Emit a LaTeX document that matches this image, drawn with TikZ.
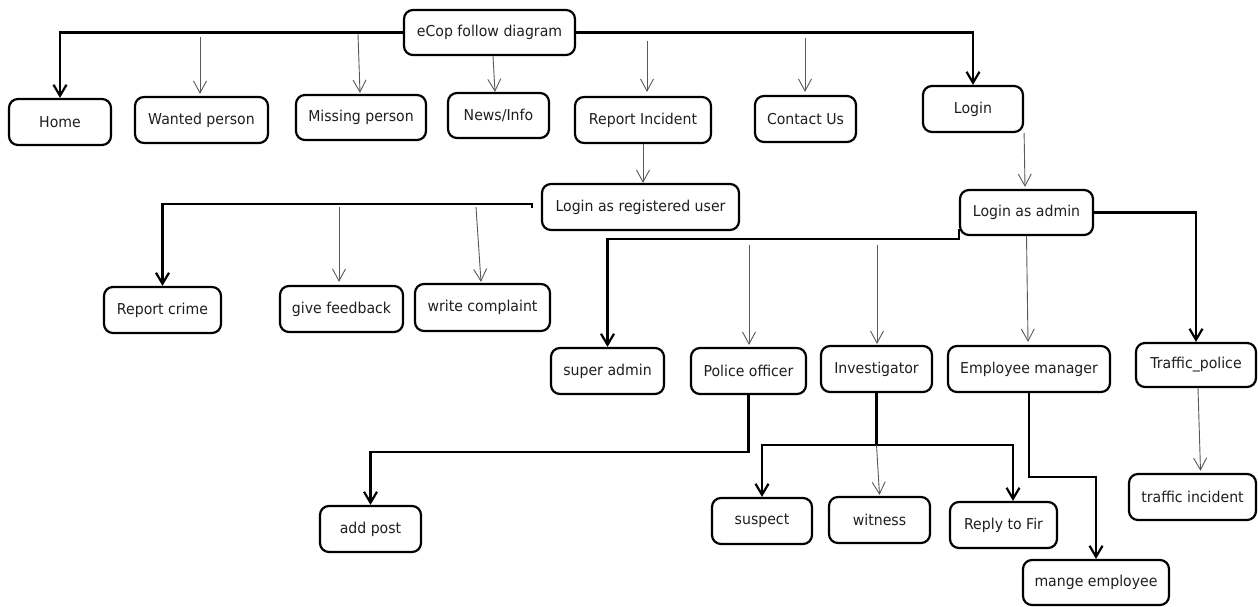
\documentclass[tikz,border=0pt]{standalone}
\usepackage{fontspec}
\setmainfont{DejaVu Sans}[FakeStretch=0.94]
\usetikzlibrary{arrows.meta,calc}

\tikzset{
  box/.style={draw=black, line width=2.2pt, rounded corners=9pt, fill=white,
    inner sep=0pt, text=black!88, font=\fontsize{15}{18}\selectfont},
  thickflow/.style={draw=black, line width=2.2pt},
  thickarrow/.style={thickflow, -{Straight Barb[length=11pt,width=13pt]}},
  thinarrow/.style={draw=black!65, line width=0.9pt, -{Straight Barb[length=12pt,width=13pt]}},
}

\begin{document}
\begin{tikzpicture}[x=1pt, y=-1pt]
\useasboundingbox[fill=white] (0,0) rectangle (1258,606);

% top level
\node[box, minimum width=171, minimum height=45] (ecop) at (489.5,32.5) {eCop follow diagram};
\node[box, minimum width=102, minimum height=46] (home) at (60,122) {Home};
\node[box, minimum width=133, minimum height=46] (wanted) at (201.5,120) {Wanted person};
\node[box, minimum width=130, minimum height=45] (missing) at (361,117.5) {Missing person};
\node[box, minimum width=101, minimum height=45] (news) at (498.5,115.5) {News/Info};
\node[box, minimum width=136, minimum height=46] (report) at (643,120) {Report Incident};
\node[box, minimum width=101, minimum height=46] (contact) at (805.5,119) {Contact Us};
\node[box, minimum width=100, minimum height=46] (login) at (973,109) {Login};

% second level
\node[box, minimum width=197, minimum height=46] (reguser) at (640.5,207) {Login as registered user};
\node[box, minimum width=133, minimum height=45] (admin) at (1026.5,212.5) {Login as admin};

% registered user pages
\node[box, minimum width=117, minimum height=46] (crime) at (162.5,310) {Report crime};
\node[box, minimum width=123, minimum height=46] (feedback) at (341.5,309) {give feedback};
\node[box, minimum width=135, minimum height=47] (complaint) at (482.5,307.5) {write complaint};

% admin roles
\node[box, minimum width=113, minimum height=46] (superadmin) at (607.5,371) {super admin};
\node[box, minimum width=115, minimum height=46] (police) at (748.5,371) {Police officer};
\node[box, minimum width=111, minimum height=46] (investigator) at (876.5,369) {Investigator};
\node[box, minimum width=162, minimum height=46] (employee) at (1029,369) {Employee manager};
\node[box, minimum width=120, minimum height=44] (traffic) at (1196,365) {Traffic\_police};

% role tasks
\node[box, minimum width=101, minimum height=46] (addpost) at (370.5,529) {add post};
\node[box, minimum width=100, minimum height=46] (suspect) at (762,521) {suspect};
\node[box, minimum width=101, minimum height=46] (witness) at (879.5,520) {witness};
\node[box, minimum width=107, minimum height=46] (reply) at (1003.5,525) {Reply to Fir};
\node[box, minimum width=127, minimum height=46] (incident) at (1192.5,497) {traffic incident};
\node[box, minimum width=146, minimum height=45] (mange) at (1096,582.5) {mange employee};

% free ends of the branch arrows
\coordinate (wantedtop) at (200,37);
\coordinate (missingtop) at (358,34);
\coordinate (reporttop) at (647,41);
\coordinate (contacttop) at (805,38);
\coordinate (regend) at (532,208);
\coordinate (feedbacktop) at (339,207);
\coordinate (complainttop) at (476,207);
\coordinate (policetop) at (749,245);
\coordinate (investigatortop) at (877,245);
\coordinate (invj) at (876.5,445);

% eCop menu
\draw[thickarrow] (ecop.west) -| (home.north);
\draw[thinarrow] (wantedtop) -- ($(wanted.north)+(-1.5,-2)$);
\draw[thinarrow] (missingtop) -- ($(missing.north)+(-1,-1)$);
\draw[thinarrow] ($(ecop.south)+(3.5,0)$) -- ($(news.north)+(-3.5,0)$);
\draw[thinarrow] (reporttop) -- ($(report.north)+(4,-4)$);
\draw[thinarrow] (contacttop) -- ($(contact.north)+(-0.5,-3)$);
\draw[thickarrow] (ecop.east) -| (login.north);

% registered user branch
\draw[thinarrow] (report.south) -- (report.south |- reguser.north);
\draw[thickarrow] (regend) -- ++(0,-4) -| (crime.north);
\draw[thinarrow] (feedbacktop) -- ($(feedback.north)+(-2.5,-3)$);
\draw[thinarrow] (complainttop) -- ($(complaint.north)+(-1.5,-1)$);

% admin branch
\draw[thinarrow] (login.south east) -- ($(admin.north)+(-1.5,-2)$);
\draw[thickarrow] ($(admin.south west)+(0,-7)$) -- ++(0,10) -| (superadmin.north);
\draw[thinarrow] (policetop) -- ($(police.north)+(0.5,-2)$);
\draw[thinarrow] (investigatortop) -- ($(investigator.north)+(0.5,-1)$);
\draw[thinarrow] (admin.south) -- ($(employee.north)+(-1,-3)$);
\draw[thickarrow] (admin.east) -| (traffic.north);

% role tasks
\draw[thickarrow] (police.south) -- ++(0,57) -| (addpost.north);
\draw[thickflow] (investigator.south) -- (invj);
\draw[thickarrow] (invj) -| (suspect.north);
\draw[thickarrow] (invj) -| ($(reply.north)+(9.5,0)$);
\draw[thinarrow] (invj) -- ($(witness.north)+(0,-1)$);
\draw[thickarrow] (employee.south) -- ++(0,84) -| (mange.north);
\draw[thinarrow] ($(traffic.south)+(2,0)$) -- ($(incident.north)+(8,-2)$);
\end{tikzpicture}
\end{document}
